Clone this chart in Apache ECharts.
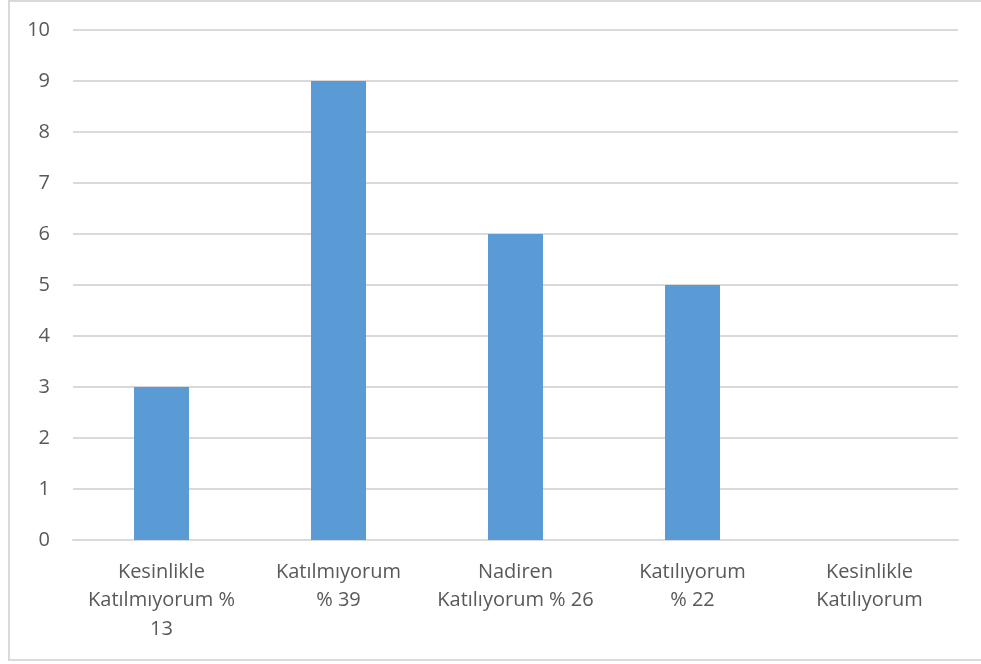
<!DOCTYPE html>
<html>
<head>
<meta charset="utf-8">
<script src="https://cdn.jsdelivr.net/npm/echarts@6/dist/echarts.min.js"></script>
<style>
  html, body { margin: 0; padding: 0; background: #ffffff; }
  #chart { width: 981px; height: 664px; }
</style>
</head>
<body>
<div id="chart"></div>
<script>
// Survey answers and the number of respondents for each
const categories = [
  'Kesinlikle\nKatılmıyorum %\n13',
  'Katılmıyorum\n% 39',
  'Nadiren\nKatılıyorum % 26',
  'Katılıyorum\n% 22',
  'Kesinlikle\nKatılıyorum'
];
const counts = [3, 9, 6, 5, 0];
const yTicks = [0, 1, 2, 3, 4, 5, 6, 7, 8, 9, 10];

const textColor = '#595959';
const lineColor = '#d9d9d9';
const fontFamily = '"Open Sans", Lato, sans-serif';

const chart = echarts.init(document.getElementById('chart'), null, { renderer: 'canvas' });

chart.setOption({
  animation: false,
  backgroundColor: '#ffffff',
  graphic: [{
    type: 'rect',
    shape: { x: 9, y: 1, width: 1000, height: 659 },
    style: { fill: 'none', stroke: lineColor, lineWidth: 2 },
    silent: true,
    z: -1
  }],
  grid: { left: 73, right: 23, top: 30, bottom: 124, containLabel: false },
  xAxis: {
    type: 'category',
    data: categories,
    axisLine: { show: true, lineStyle: { color: lineColor, width: 2 } },
    axisTick: { show: false },
    axisLabel: {
      color: textColor,
      fontFamily: fontFamily,
      fontSize: 20,
      lineHeight: 28.5,
      margin: 18,
      interval: 0,
      align: 'center'
    }
  },
  yAxis: {
    type: 'value',
    min: yTicks[0],
    max: yTicks[yTicks.length - 1],
    interval: 1,
    axisLine: { show: false },
    axisTick: { show: false },
    splitLine: { show: true, lineStyle: { color: lineColor, width: 2 } },
    axisLabel: {
      color: textColor,
      fontFamily: fontFamily,
      fontSize: 20,
      margin: 23
    }
  },
  series: [{
    type: 'bar',
    data: counts,
    barWidth: 55,
    itemStyle: { color: '#5b9bd5' }
  }]
});
</script>
</body>
</html>
